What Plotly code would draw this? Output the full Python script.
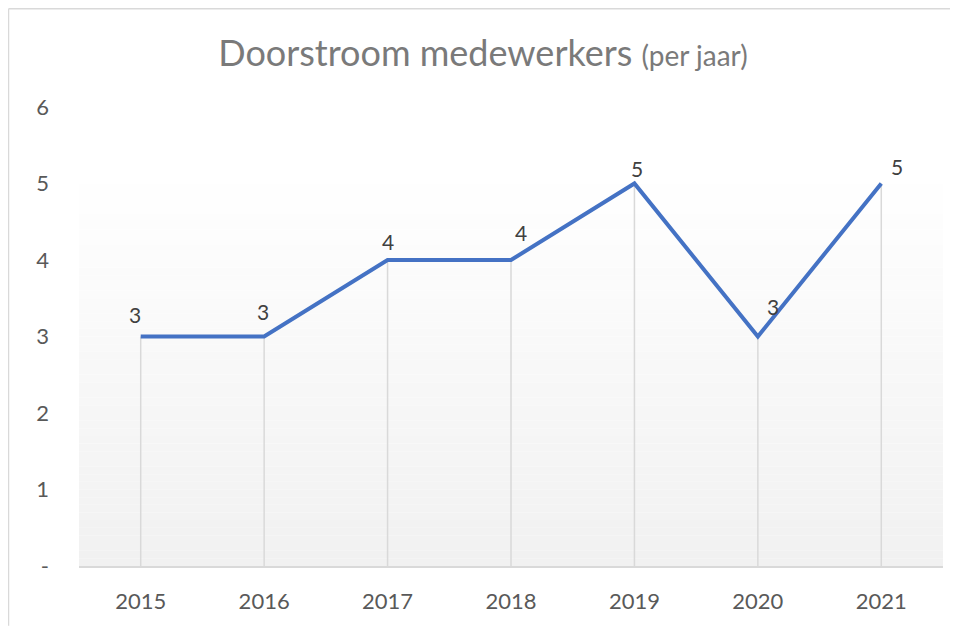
import plotly.graph_objects as go

years = ["2015", "2016", "2017", "2018", "2019", "2020", "2021"]
values = [3, 3, 4, 4, 5, 3, 5]
y_tickvals = [0, 1, 2, 3, 4, 5, 6]
y_ticktext = ["-", "1", "2", "3", "4", "5", "6"]

# label offsets (pixels) relative to each point
label_xshift = [-6, -1, 0, 10, 3, 15, 16]
label_yshift = [22, 25, 19, 28, 15, 30, 17]

FONT = "Lato"

fig = go.Figure()

# drop lines from each point to the axis
dx, dy = [], []
for yr, v in zip(years, values):
    dx += [yr, yr, None]
    dy += [0, v, None]
fig.add_trace(go.Scatter(x=dx, y=dy, mode="lines",
                         line=dict(color="#d9d9d9", width=1.5),
                         hoverinfo="skip", showlegend=False))

fig.add_trace(go.Scatter(x=years, y=values, mode="lines",
                         line=dict(color="#4472C4", width=4),
                         showlegend=False))

# data labels
for i, (v, xs, ys) in enumerate(zip(values, label_xshift, label_yshift)):
    fig.add_annotation(x=i, y=v, text=str(v), showarrow=False,
                       xshift=xs, yshift=ys,
                       font=dict(family=FONT, size=21, color="#404040"))

# gradient background of plot area
N = 52
top = 5.2
for i in range(N):
    t = i / (N - 1)
    c = int(round(0xf1 + (0xff - 0xf1) * t))
    fig.add_shape(type="rect", xref="paper", x0=0, x1=1,
                  yref="y", y0=top * i / N, y1=top * (i + 1) / N,
                  fillcolor=f"rgb({c},{c},{c})", line=dict(width=0),
                  layer="below")

# chart border (top and left)
fig.add_shape(type="line", xref="paper", yref="paper",
              x0=-0.0816, x1=1.02, y0=1.214, y1=1.214,
              line=dict(color="#d9d9d9", width=1.5))
fig.add_shape(type="line", xref="paper", yref="paper",
              x0=-0.0816, x1=-0.0816, y0=1.214, y1=-0.13,
              line=dict(color="#d9d9d9", width=1.5))

fig.update_layout(
    width=950, height=618,
    margin=dict(l=71, r=15, t=99, b=54),
    paper_bgcolor="white", plot_bgcolor="white",
    title=dict(
        text="Doorstroom medewerkers <span style='font-size:28px'>(per jaar)</span>",
        x=0.5, xref="container", xanchor="center",
        y=1 - 45 / 618, yanchor="middle",
        font=dict(family=FONT, size=36, color="#7a7a7a")),
    xaxis=dict(type="category", range=[-0.5, 6.5], showgrid=False,
               showline=True, linecolor="#d9d9d9", linewidth=1.5,
               ticks="", ticklabelstandoff=15,
               tickfont=dict(family=FONT, size=22, color="#595959"),
               zeroline=False, fixedrange=True),
    yaxis=dict(range=[0, 6], tickvals=y_tickvals, ticktext=y_ticktext,
               showgrid=False, showline=False, zeroline=False, ticks="",
               ticklabelstandoff=29,
               tickfont=dict(family=FONT, size=22, color="#595959")),
)

fig.write_html("out.html")
